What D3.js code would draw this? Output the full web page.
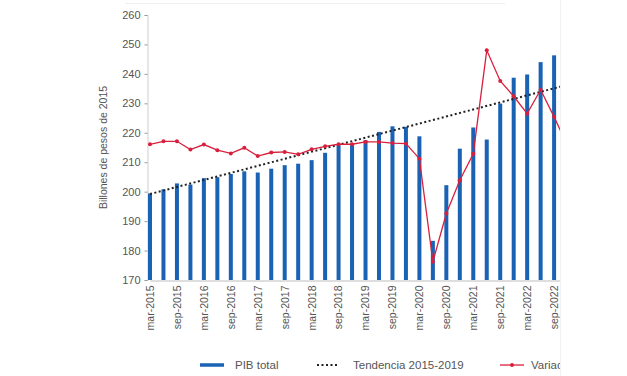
<!DOCTYPE html>
<html>
<head>
<meta charset="utf-8">
<script src="https://cdn.jsdelivr.net/npm/d3@7/dist/d3.min.js"></script>
<style>
  html, body { margin: 0; padding: 0; background: #fff; }
  svg { display: block; font-family: "Liberation Sans", Arial, sans-serif; }
</style>
</head>
<body>
<svg id="chart" width="627" height="376"></svg>
<script>
// ---- data ----
const quarters = [
  "mar-2015","jun-2015","sep-2015","dic-2015",
  "mar-2016","jun-2016","sep-2016","dic-2016",
  "mar-2017","jun-2017","sep-2017","dic-2017",
  "mar-2018","jun-2018","sep-2018","dic-2018",
  "mar-2019","jun-2019","sep-2019","dic-2019",
  "mar-2020","jun-2020","sep-2020","dic-2020",
  "mar-2021","jun-2021","sep-2021","dic-2021",
  "mar-2022","jun-2022","sep-2022","dic-2022"
];
const pibTotal = [
  199.4, 200.8, 202.8, 202.4,
  204.6, 204.9, 206.0, 206.9,
  206.5, 207.8, 209.0, 209.5,
  210.7, 213.2, 215.8, 216.3,
  217.5, 220.3, 222.2, 222.0,
  218.8, 183.3, 202.2, 214.6,
  221.8, 217.7, 229.9, 238.7,
  239.8, 244.0, 246.3, 248.0
];
const variacion = [
  216.1, 217.1, 217.1, 214.3,
  216.0, 214.1, 213.0, 214.9,
  212.1, 213.3, 213.5, 212.7,
  214.4, 215.4, 216.1, 216.1,
  216.9, 216.9, 216.5, 216.3,
  211.2, 176.2, 192.6, 203.9,
  212.9, 248.0, 237.6, 232.4,
  226.5, 234.6, 225.4, 215.5
];
const trendPoints = [
  { q: "mar-2015", v: 199.2 },
  { q: "dic-2022", v: 236.3 }
];
const yTicks = [170, 180, 190, 200, 210, 220, 230, 240, 250, 260];
const xTickLabels = quarters.filter(q => q.startsWith("mar") || q.startsWith("sep"));
const legendLabels = ["PIB total", "Tendencia 2015-2019", "Variación anual (%)"];
const yTitle = "Billones de pesos de 2015";

// ---- layout ----
const svg = d3.select("#chart");
const clipW = 561;
const blue = "#1a62b4", red = "#d8203c";

svg.append("defs").append("clipPath").attr("id", "clip")
  .append("rect").attr("x", 0).attr("y", 0).attr("width", clipW).attr("height", 376);

const root = svg.append("g").attr("clip-path", "url(#clip)");

const x = d3.scalePoint().domain(quarters).range([150, 150 + 31 * 13.47]);
const y = d3.scaleLinear().domain([170, 260]).range([280, 15]);

// faint frame
root.append("line").attr("x1", 125).attr("x2", 505).attr("y1", 3.5).attr("y2", 3.5)
  .attr("stroke", "#f0f0f0").attr("stroke-width", 1);
svg.append("line").attr("x1", 560.5).attr("x2", 560.5).attr("y1", 0).attr("y2", 376)
  .attr("stroke", "#f2f2f2").attr("stroke-width", 1);

// y axis
const yAxis = root.append("g").attr("transform", "translate(147.5,0)")
  .call(d3.axisLeft(y).tickValues(yTicks).tickSize(3).tickPadding(4));
yAxis.select(".domain").attr("stroke", "#d8d8d8").attr("stroke-width", 1.2);
yAxis.selectAll(".tick line").attr("stroke", "#999");
yAxis.selectAll(".tick text").attr("fill", "#555").style("font-size", "11px");

root.append("text")
  .attr("transform", "translate(107," + ((15 + 280) / 2) + ") rotate(-90)")
  .attr("text-anchor", "middle").attr("fill", "#555")
  .style("font-size", "10.5px").text(yTitle);

// bars
root.append("g").selectAll("rect").data(quarters).join("rect")
  .attr("x", d => x(d) - 2)
  .attr("width", 4)
  .attr("y", (d, i) => y(pibTotal[i]))
  .attr("height", (d, i) => y(170) - y(pibTotal[i]))
  .attr("fill", blue);

// x axis
const xAxis = root.append("g").attr("transform", "translate(0,280.5)")
  .call(d3.axisBottom(x).tickValues(xTickLabels).tickSize(0).tickPadding(5));
xAxis.select(".domain").attr("stroke", "#bdbdbd").attr("stroke-width", 1);
xAxis.selectAll(".tick text")
  .attr("transform", "rotate(-90)")
  .attr("text-anchor", "end")
  .attr("dy", "0.32em")
  .attr("x", -5).attr("y", 0)
  .attr("fill", "#555")
  .style("font-size", "10.5px");

// trend line
root.append("path")
  .datum(trendPoints)
  .attr("d", d3.line().x(d => x(d.q)).y(d => y(d.v)))
  .attr("fill", "none").attr("stroke", "#222")
  .attr("stroke-width", 2).attr("stroke-dasharray", "2,2.5");

// variation line
const varData = quarters.map((q, i) => ({ q, v: variacion[i] }));
root.append("path")
  .datum(varData)
  .attr("d", d3.line().x(d => x(d.q)).y(d => y(d.v)))
  .attr("fill", "none").attr("stroke", red).attr("stroke-width", 1.3);
root.append("g").selectAll("circle").data(varData).join("circle")
  .attr("cx", d => x(d.q)).attr("cy", d => y(d.v)).attr("r", 2)
  .attr("fill", red);

// legend
const lg = root.append("g").attr("transform", "translate(0,365)");
const lgFont = "11.5px";
lg.append("line").attr("x1", 200).attr("x2", 224).attr("y1", 0).attr("y2", 0)
  .attr("stroke", blue).attr("stroke-width", 3.5);
lg.append("text").attr("x", 235).attr("y", 0).attr("dy", "0.35em")
  .attr("fill", "#555").style("font-size", lgFont).text(legendLabels[0]);
lg.append("line").attr("x1", 317).attr("x2", 338).attr("y1", 0).attr("y2", 0)
  .attr("stroke", "#222").attr("stroke-width", 2).attr("stroke-dasharray", "2,2.5");
lg.append("text").attr("x", 353).attr("y", 0).attr("dy", "0.35em")
  .attr("fill", "#555").style("font-size", lgFont).text(legendLabels[1]);
lg.append("line").attr("x1", 500).attr("x2", 524).attr("y1", 0).attr("y2", 0)
  .attr("stroke", red).attr("stroke-width", 1.3);
lg.append("circle").attr("cx", 512).attr("cy", 0).attr("r", 2).attr("fill", red);
lg.append("text").attr("x", 531).attr("y", 0).attr("dy", "0.35em")
  .attr("fill", "#555").style("font-size", lgFont).text(legendLabels[2]);
</script>
</body>
</html>
